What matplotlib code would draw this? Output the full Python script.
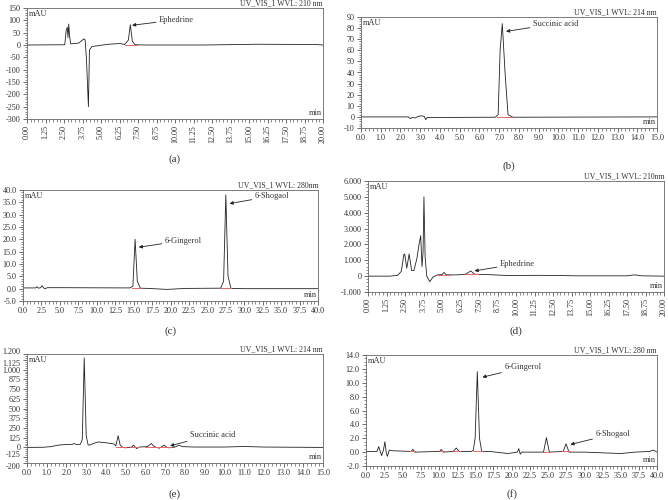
import matplotlib
matplotlib.use('Agg')
import matplotlib.pyplot as plt
from matplotlib.ticker import AutoMinorLocator, MultipleLocator

plt.rcParams['font.family'] = ['Liberation Serif', 'DejaVu Serif']
plt.rcParams['axes.unicode_minus'] = False

W, H = 668, 500

# --- (a) extract, 210 nm ---
a_time = [0, 2.55, 2.65, 2.72, 2.77, 2.82, 2.87, 2.95, 3.05, 3.5, 3.85, 3.93, 4.02, 4.15, 4.22,
          4.4, 5.5, 6.3, 6.6, 6.85, 6.98, 7.12, 7.3, 8, 12, 15.5, 19.5, 20]
a_mau = [0, 1, 60, 72, 30, 85, 40, 5, 5, 8, 25, 20, -60, -250, -20,
         -6, 3, 6, 2, 20, 82, 15, 1, 0, 0, 3, 2, 0]
a_red = [(6.65, 7.45, 0)]

# --- (b) extract, 214 nm ---
b_time = [0, 2.4, 2.5, 2.6, 2.75, 2.9, 3.05, 3.2, 3.28, 3.35, 4, 6.8, 6.95, 7.05, 7.16,
          7.3, 7.45, 7.7, 15]
b_mau = [0, 0, -1.5, -0.5, -1, 0.5, 1, 0.5, -2.5, -0.5, -0.5, -0.3, 2, 60, 84,
         40, 2, -0.3, 0]
b_red = [(6.9, 7.65, 0)]

# --- (c) standards, 280 nm ---
c_time = [0, 1.7, 1.9, 2.1, 2.4, 2.6, 2.8, 3.0, 3.3, 5, 14.5, 14.9, 15.2, 15.5, 15.9,
          17, 19.5, 22, 26.8, 27.2, 27.5, 27.8, 28.2, 30, 40]
c_mau = [0.3, 0.3, 0.8, 0.2, 0.4, 1.2, 0.3, 0.0, 0.4, 0.4, 0.3, 1.0, 20, 3, 0.2,
         0.1, -0.3, 0.1, 0.2, 3, 38, 5, 0.1, 0, 0]
c_red = [(14.8, 15.9, 0.2), (26.9, 28.2, 0.1)]

# --- (d) sample, 210 nm ---
d_time = [0, 1.5, 2.0, 2.25, 2.42, 2.48, 2.62, 2.78, 2.95, 3.1, 3.3, 3.45, 3.56, 3.65,
          3.72, 3.78, 3.86, 3.97, 4.17, 4.4, 4.7, 5.0, 5.14, 5.3, 6.0, 6.6, 6.94, 7.2,
          8.0, 9.5, 11.5, 13, 14, 17.5, 18.0, 18.5, 20]
d_mau = [0, 0, 50, 300, 1350, 1400, 500, 1400, 350, 350, 1100, 2000, 2550, 600,
         1500, 5000, 1200, 0, -350, -50, 80, 100, 230, 80, 80, 120, 330, 120,
         100, 40, 50, 40, 20, 20, 80, 20, 0]
d_red = [(4.75, 5.55, 100), (6.6, 7.4, 110)]

# --- (e) sample, 214 nm ---
e_time = [0, 0.8, 1.2, 1.6, 2.0, 2.3, 2.4, 2.5, 2.7, 2.8, 2.9, 3.0, 3.1, 3.25, 3.35,
          3.6, 4.0, 4.4, 4.5, 4.62, 4.72, 4.85, 5.0, 5.3, 5.4, 5.55, 5.7, 6.1, 6.3,
          6.45, 6.7, 6.95, 7.05, 7.2, 7.5, 7.7, 7.9, 8.5, 10, 11.0, 12, 15]
e_mau = [0, 2, 10, 30, 38, 40, 50, 38, 40, 100, 1150, 150, 30, 35, 50,
         70, 60, 45, 20, 150, 30, 0, -5, 5, 30, -15, 5, 10, 50,
         10, -10, 30, 5, -5, 5, 28, 10, 5, 5, 12, 5, 0]
e_red = [(4.5, 5.0, 10), (5.2, 5.7, 0), (6.0, 6.6, 5), (6.6, 7.3, 0)]

# --- (f) sample, 280 nm ---
f_time = [0, 1.5, 1.75, 1.95, 2.15, 2.4, 2.6, 2.8, 2.95, 3.2, 3.6, 6.2, 6.45, 6.7,
          10.1, 10.35, 10.6, 12.0, 12.4, 12.8, 14.5, 14.75, 15.0, 15.3, 15.6, 15.9,
          17, 19.5, 20.8, 21.0, 21.2, 21.4, 24.4, 24.8, 25.2, 27.1, 27.5, 27.9, 30,
          35, 37, 39, 39.5, 40]
f_mau = [0.1, 0.1, 0.8, 0.1, -0.5, 0.3, 1.5, -0.2, -0.6, 0.3, 0.2, 0.1, 0.4, 0.0,
         0.1, 0.4, 0.0, 0.1, 0.6, 0.1, 0.1, 0.3, 2.0, 11.6, 2.0, 0.1,
         0.1, -0.2, 0.0, 0.5, -0.3, 0.0, 0.0, 2.1, 0.0, 0.1, 1.2, 0.0, 0.0,
         -0.2, 0.0, 0.1, 0.3, 0.0]
f_red = [(6.1, 6.8, 0.1), (10.0, 10.7, 0.1), (11.9, 12.9, 0.1), (14.7, 16.0, 0.1),
         (24.3, 25.3, 0.0), (27.0, 28.1, 0.1)]

e_yticks = [-200, -125, 0, 125, 250, 375, 500, 625, 750, 875, 1000, 1125, 1200]
d_yticks = [-1000, 0, 1000, 2000, 3000, 4000, 5000, 6000]


def dotted(v):
    # thousands separator as in the Chromeleon export
    s = f"{abs(v):,}".replace(',', '.')
    return ('-' if v < 0 else '') + s


def panel(box, t, y, red, xlim, xstep, xfmt, rot, ylim, yticks, ylabels, ymin_step,
          title, letter, letter_y, notes):
    l, r, tp, b = box
    ax = fig.add_axes([l / W, 1 - b / H, (r - l) / W, (b - tp) / H])
    ax.plot(t, y, color='#222222', lw=0.6)
    for x0, x1, lev in red:
        ax.plot([x0, x1], [lev, lev], color='#e8656a', lw=0.7)
    ax.set_xlim(xlim)
    ax.set_ylim(ylim)
    xt = [xlim[0] + i * xstep for i in range(int(round((xlim[1] - xlim[0]) / xstep)) + 1)]
    ax.set_xticks(xt)
    ax.set_xticklabels([xfmt.format(v) for v in xt], rotation=rot)
    ax.set_yticks(yticks)
    ax.set_yticklabels(ylabels)
    ax.xaxis.set_minor_locator(AutoMinorLocator(5))
    ax.yaxis.set_minor_locator(MultipleLocator(ymin_step))
    ax.tick_params(which='major', length=3, width=0.5, pad=1.5, labelsize=5.9,
                   colors='#333333', top=False, right=False)
    ax.tick_params(which='minor', length=1.8, width=0.4, colors='#333333',
                   top=False, right=False)
    for s in ax.spines.values():
        s.set_linewidth(0.6)
        s.set_color('#666666')
    ax.text(0.006, 0.985, 'mAU', transform=ax.transAxes, ha='left', va='top',
            fontsize=6, color='#333333')
    ax.text(0.997, 0.02, 'min', transform=ax.transAxes, ha='right', va='bottom',
            fontsize=6, color='#333333')
    ax.text(1.0, 1.004, title, transform=ax.transAxes, ha='right', va='bottom',
            fontsize=5.6, color='#333333')
    for txt, txy, axy in notes:
        ax.annotate(txt, xy=axy, xytext=txy, fontsize=6, color='#333333',
                    ha='left', va='center',
                    arrowprops=dict(arrowstyle='-|>', color='#222222', lw=0.6,
                                    mutation_scale=5, shrinkA=0, shrinkB=0))
    fig.text(((l + r) / 2) / W, 1 - letter_y / H, letter, ha='center', va='center',
             fontsize=8, color='#333333')
    return ax


fig = plt.figure(figsize=(W / 100, H / 100), dpi=100)

panel((27, 323, 8, 119), a_time, a_mau, a_red, (0, 20), 1.25, '{:.2f}', 90,
      (-300, 150), list(range(-300, 151, 50)), [str(v) for v in range(-300, 151, 50)], 10,
      'UV_VIS_1 WVL: 210 nm', '(a)', 159,
      [('Ephedrine', (8.9, 102), (7.1, 80))])

panel((361, 657, 17, 128), b_time, b_mau, b_red, (0, 15), 1.0, '{:.1f}', 0,
      (-10, 90), list(range(-10, 91, 10)), [str(v) for v in range(-10, 91, 10)], 2,
      'UV_VIS_1 WVL: 214 nm', '(b)', 166,
      [('Succinic acid', (8.7, 84), (7.35, 77))])

c_ticks = [-5 + 5 * i for i in range(10)]
panel((23, 318, 190, 301), c_time, c_mau, c_red, (0, 40), 2.5, '{:.1f}', 0,
      (-5, 40), c_ticks, ['{:.1f}'.format(v) for v in c_ticks], 1,
      'UV_VIS_1 WVL: 280nm', '(c)', 331,
      [('6-Gingerol', (19.2, 19.5), (15.7, 16.8)),
       ('6-Shogaol', (31.4, 37.5), (28.0, 34.5))])

panel((368, 664, 181, 292), d_time, d_mau, d_red, (0, 20), 1.25, '{:.2f}', 90,
      (-1000, 6000), d_yticks, [dotted(v) for v in d_yticks], 200,
      'UV_VIS_1 WVL: 210nm', '(d)', 331,
      [('Ephedrine', (8.9, 780), (7.2, 330))])

ax_e = panel((27, 323, 354, 463), e_time, e_mau, e_red, (0, 15), 1.0, '{:.1f}', 0,
             (-200, 1200), e_yticks, [dotted(v) for v in e_yticks], 25,
             'UV_VIS_1 WVL: 214 nm', '(e)', 494,
             [('Succinic acid', (8.25, 165), (7.25, 20))])
# the crowded top and bottom labels sit a little apart, as in the export
e_labels = ax_e.get_yticklabels()
e_labels[-1].set_verticalalignment('baseline')
e_labels[-2].set_verticalalignment('top')
e_labels[0].set_verticalalignment('top')
e_labels[1].set_verticalalignment('baseline')

f_ticks = [-2 + 2 * i for i in range(9)]
panel((366, 657, 355, 466), f_time, f_mau, f_red, (0, 40), 2.5, '{:.1f}', 0,
      (-2, 14), f_ticks, ['{:.1f}'.format(v) for v in f_ticks], 0.5,
      'UV_VIS_1 WVL: 280 nm', '(f)', 494,
      [('6-Gingerol', (19.0, 12.2), (16.0, 10.8)),
       ('6-Shogaol', (31.5, 2.6), (28.1, 1.1))])

fig.savefig('out.png', dpi=100)
